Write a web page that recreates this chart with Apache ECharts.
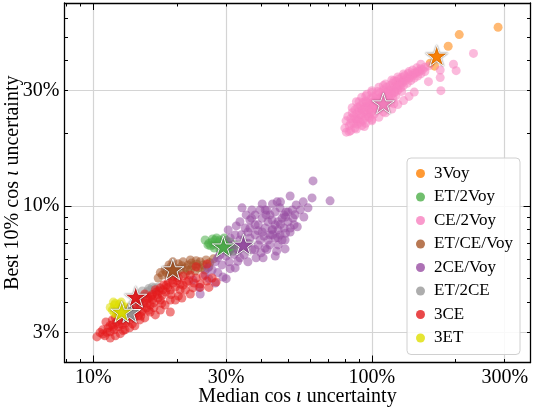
<!DOCTYPE html>
<html><head><meta charset="utf-8">
<script src="https://cdn.jsdelivr.net/npm/echarts@6/dist/echarts.min.js"></script>
<style>html,body{margin:0;padding:0;background:#fff}#c{width:533px;height:409px}</style>
</head><body><div id="c"></div><script>
// ---- data (percent) ----
const categories = ['3Voy','ET/2Voy','CE/2Voy','ET/CE/Voy','2CE/Voy','ET/2CE','3CE','3ET'];
const colors = ['#ff7f00','#4daf4a','#f781bf','#a65628','#984ea3','#999999','#e41a1c','#dede00'];

const pts3Voy = [[284,54.9],[206,51.2],[188,45.8],[168,37.9],[162,39.0]];
const ptsET2Voy = [[25.2,7.23],[25.8,6.9],[26.7,7.1],[27.4,7.23],[28.0,6.96],[28.5,7.23],[29.0,6.77],[29.7,7.0],[30.5,6.84],[31.0,7.1],[31.5,6.7],[29.9,6.58],[28.5,6.58],[27.2,6.7],[26.4,6.84],[32.3,6.9],[27.7,7.37],[29.5,7.37],[30.5,6.45],[31.8,6.5],[26,7.0],[27,6.9],[28.2,7.1],[29.3,6.9],[30,7.2],[31,6.6],[26.8,7.3]];
const ptsCE2Voy = [[80,21.0],[80.8,22.5],[81,20.2],[82,23.5],[82.9,20.3],[83,21.5],[84,20.5],[84,23.0],[85,24.3],[86,22.0],[86.9,21.0],[86,23.6],[87,25.0],[88,22.8],[88,24.0],[88.5,21.8],[89,25.6],[90,23.0],[90,24.8],[91,22.2],[91,26.0],[92,23.8],[92,25.2],[93,22.6],[93,26.8],[94,24.5],[94.5,23.2],[95,25.8],[95,27.2],[95,22.0],[95,28.5],[96,24.0],[96.5,25.5],[97,26.6],[97,23.5],[98,25.0],[98.5,26.2],[99,27.8],[99,24.2],[100,25.5],[100,24.6],[100,22.8],[100,29.5],[101,27.0],[101,28.3],[103,26.0],[103,27.5],[104,25.2],[104,28.8],[106,26.8],[106,28.0],[107,25.8],[107,29.5],[109,27.2],[109,28.6],[110,26.4],[110,30.2],[110,24.5],[110,31.5],[112,27.8],[112,29.5],[113,26.9],[113,31.0],[115,28.5],[115,30.0],[116,27.5],[116,31.5],[118,29.0],[118,30.8],[119,28.0],[119,32.2],[120,26.5],[120,33.0],[121,29.6],[121,31.2],[122,32.8],[122,28.6],[124,30.2],[124,31.8],[125,33.5],[127,30.8],[127,32.5],[128,34.0],[128,29.8],[130,31.5],[130,33.2],[131,34.6],[134,32.2],[134,34.0],[135,35.3],[138,33.0],[138,34.8],[140,36.5],[142,33.8],[142,35.5],[145,37.3],[146,34.5],[146,36.2],[150,35.2],[150,37.0],[150,38.6],[155,36.0],[155,37.5],[160,38.0],[231.7,42.8],[196.4,38.6],[200.8,36.3],[176,34.0],[177,30.0],[159.7,32.7],[176,36.5],[84,22.0],[87,23.0],[89,22.5],[91,24.0],[93,25.0],[96,26.8],[98,23.2],[102,26.2],[104,27.0],[105,29.8],[108,27.8],[111,28.5],[114,29.2],[117,30.0],[120,29.5],[123,30.8],[126,31.6],[129,32.4],[132,33.0],[136,33.8],[140,34.6],[144,35.4],[148,36.0],[152,36.6],[102,24.0],[106,25.0],[112,26.0],[117,26.8],[92,21.5],[88,20.8],[85,25.5],[90,27.0],[88,27.0],[92,28.2],[96,29.0],[100,30.0],[106,31.0],[112,32.0],[118,33.2],[124,34.2],[130,35.2],[136,36.0],[94,21.3],[100,22.5],[106,23.3],[112,24.3],[118,25.2],[124,26.3],[130,27.3],[136,28.4],[142,29.6]];
const ptsETCEVoy = [[17.7,5.18],[18.1,5.43],[18.7,5.7],[18.9,5.33],[19.7,5.54],[20.2,5.76],[20.5,5.43],[21.0,5.87],[21.4,5.54],[21.9,5.7],[22.3,5.98],[22.8,5.65],[23.4,5.93],[23.8,5.54],[24.2,5.87],[24.8,5.7],[25.4,5.98],[26.2,5.82],[27.0,6.04],[18.7,5.13],[19.7,5.18],[21.4,5.23],[23.2,5.38],[17.1,5.03],[22.3,5.43],[25.2,5.43],[19.3,5.87],[18.3,5.3],[19.0,5.6],[20.0,5.3],[20.8,5.65],[21.8,5.4],[22.5,5.8],[23.5,5.75],[24.5,5.55],[26.0,5.6],[19.5,5.1],[17.4,5.3]];
const pts2CEVoy = [[61.5,12.7],[70.8,10.5],[61.0,10.8],[56.7,10.4],[59.0,9.82],[50.9,11.0],[40.4,10.2],[45.7,10.4],[52.1,8.9],[48.8,6.64],[45.0,6.2],[40.7,6.1],[55.3,9.63],[53.5,10.1],[33.6,8.6],[35.1,8.1],[36.5,8.75],[38.1,9.18],[39.1,8.35],[40.4,8.9],[41.4,9.63],[42.4,8.6],[43.1,9.18],[43.8,7.96],[45.0,9.45],[46.1,8.6],[46.8,9.82],[47.6,8.9],[48.4,8.1],[49.2,9.45],[50.0,8.6],[50.9,7.8],[51.8,9.63],[52.6,8.35],[40.4,7.8],[38.1,7.59],[36.5,7.37],[42.4,7.23],[45.0,7.37],[46.8,7.59],[39.1,6.9],[41.4,6.7],[43.1,6.9],[35.1,6.9],[33.6,7.23],[37.1,6.58],[48.8,7.23],[46.1,6.9],[35.9,7.8],[32.3,7.59],[31.5,6.9],[33.1,6.58],[34.8,6.27],[31.0,7.37],[39.7,9.63],[37.1,9.63],[35.4,9.18],[34.2,9.82],[32.6,8.27],[30.5,7.96],[38.4,6.1],[35.9,5.87],[33.6,6.1],[29.7,6.7],[28.5,6.27],[27.4,5.87],[29.0,5.7],[26.7,5.43],[25.2,5.18],[27.4,4.8],[29.2,5.08],[24.2,4.32],[22.8,4.94],[25.8,5.54],[28.0,6.1],[30.7,5.87],[32.3,5.54],[41.4,8.1],[43.8,8.75],[46.1,7.96],[48.4,9.18],[43.1,7.59],[39.7,7.23],[38.1,8.35],[45.0,8.35],[50.0,9.45],[41.7,9.18],[47.6,7.23],[36.5,8.1],[44,8.0],[47,8.4],[49,9.0],[51,8.1],[53,9.2],[42,9.6],[44,10.2],[47,10.4],[37,8.9],[39,7.9],[41,7.5],[44,7.6],[46,7.4],[49,7.7],[34,7.6],[36,7.0],[38,6.6],[40,6.4],[42,6.6],[30,6.2],[32,6.3],[31,5.5],[33,5.9],[26,5.0],[28,5.3],[30,5.0],[24,4.6],[57,9.0],[54,8.2],[45.5,6.5]];
const ptsET2CE = [[13.3,3.64],[13.8,3.78],[14.2,3.89],[14.7,4.08],[15.2,4.24],[15.6,4.41],[16.0,4.49],[16.6,4.58],[14.1,3.64],[15.0,3.93],[13.0,3.51],[17.1,4.62],[15.8,4.55],[16.3,4.62],[15.0,4.45]];
const pts3CE = [[10.3,2.87],[10.57,2.99],[10.8,3.07],[11.0,2.90],[11.3,3.13],[11.5,3.01],[11.7,3.22],[11.9,3.07],[12.1,3.31],[12.3,3.16],[12.5,3.375],[12.7,3.22],[12.9,3.44],[13.1,3.28],[13.3,3.51],[13.5,3.375],[13.8,3.58],[14.0,3.44],[14.2,3.71],[14.5,3.51],[14.7,3.85],[14.9,3.64],[15.2,3.97],[15.5,3.78],[15.7,4.16],[16.0,3.89],[16.2,4.24],[16.5,3.97],[16.8,4.40],[17.1,4.16],[17.4,4.58],[17.7,4.28],[17.9,4.71],[18.2,4.40],[18.6,4.84],[18.9,4.49],[19.2,4.94],[19.7,4.62],[20.2,5.03],[20.5,4.75],[21.0,5.13],[21.6,4.84],[22.3,5.18],[22.8,4.58],[23.4,5.03],[24.2,4.75],[24.8,5.13],[25.6,4.89],[26.7,5.03],[27.6,4.84],[18.9,4.08],[18.1,3.89],[17.4,3.71],[16.7,3.54],[18.9,3.64],[16.0,3.64],[15.3,3.44],[14.7,3.375],[14.1,3.19],[13.5,3.13],[13.0,3.07],[12.5,2.96],[12.0,2.90],[11.5,2.84],[15.3,4.32],[16.7,4.5],[17.4,4.08],[16.0,4.2],[14.7,4.08],[14.1,3.89],[13.5,3.78],[13.0,3.64],[12.3,3.51],[11.7,3.375],[11.1,3.31],[20.2,4.24],[21.4,4.49],[22.3,4.32],[19.7,4.08],[23.4,5.6],[25.6,5.75],[20.8,4.16],[24.2,4.6],[26.0,4.6],[11.2,3.0],[11.8,3.15],[12.4,3.25],[13.0,3.35],[13.6,3.5],[14.3,3.6],[15.0,3.7],[15.6,3.95],[16.3,4.1],[17.0,4.3],[17.8,4.5],[18.5,4.6],[19.3,4.8],[20.0,4.9],[21.0,4.7],[22.0,4.9],[23.0,4.8],[12.8,3.05],[13.8,3.25],[14.8,3.5],[15.8,3.7],[16.5,3.8],[17.6,3.95],[19.0,4.3],[20.5,4.5],[10.8,2.95],[11.5,3.2],[12.0,3.45],[15.5,4.1],[17.2,4.45],[18.3,4.7],[16.3,4.3],[14.5,4.0]];
const pts3ET = [[11.7,3.71],[11.9,3.89],[12.2,3.78],[12.4,3.93],[12.5,3.71],[12.7,3.85],[12.9,3.64],[13.1,3.82],[12.1,3.57],[12.4,3.54],[11.8,4.0],[12.6,4.0],[13.2,3.6],[11.5,3.8],[12.0,3.95],[12.8,3.75],[11.9,3.6]];
const starPts = [[171,41.9],[29.3,6.8],[110,26.6],[19.3,5.47],[34.6,6.92],[13.5,3.64],[14.2,4.21],[12.65,3.65]];

const xTickLabels = [10, 30, 100, 300];
const yTickLabels = [3, 10, 30];
const xMajorTicks = [10, 100];
const xMinorTicks = [8, 9, 20, 30, 40, 50, 60, 70, 80, 90, 200, 300];
const yMajorTicks = [10];
const yMinorTicks = [3, 4, 5, 6, 7, 8, 9, 20, 30, 40, 50, 60];
const xRange = [7.88, 371.3];
const yRange = [2.249, 69.2];

// ---- build ----
const lg = v => Math.log10(v / 100);
const FONT = 'Liberation Serif';
const fmt = v => Math.round(Math.pow(10, v) * 100) + '%';
const allPts = [pts3Voy, ptsET2Voy, ptsCE2Voy, ptsETCEVoy, pts2CEVoy, ptsET2CE, pts3CE, pts3ET];

function tickAxis(pos, vals, len, showLine, range) {
  return {
    type: 'value', position: pos, min: lg(range[0]), max: lg(range[1]), gridIndex: 0,
    axisLine: { show: showLine, onZero: false, lineStyle: { color: '#000', width: 1.3 } },
    axisTick: { show: true, inside: true, length: len, customValues: vals.map(lg), lineStyle: { color: '#000', width: 1 } },
    axisLabel: { show: false }, splitLine: { show: false }, silent: true
  };
}
const nameStyle = { fontFamily: FONT, fontSize: 20, color: '#000', rich: { i: { fontFamily: FONT, fontSize: 20, fontStyle: 'italic', color: '#000' } } };
const labAxisX = {
  type: 'value', position: 'bottom', min: lg(xRange[0]), max: lg(xRange[1]),
  axisLine: { show: true, onZero: false, lineStyle: { color: '#000', width: 1.3 } },
  axisTick: { show: false, customValues: xTickLabels.map(lg) },
  axisLabel: { customValues: xTickLabels.map(lg), formatter: fmt, fontFamily: FONT, fontSize: 20, color: '#000', margin: 5 },
  splitLine: { show: true, lineStyle: { color: '#d4d4d4', width: 1.2 } },
  name: 'Median cos {i|ι} uncertainty', nameLocation: 'middle', nameGap: 24, nameMoveOverlap: false, nameTextStyle: nameStyle
};
const labAxisY = {
  type: 'value', position: 'left', min: lg(yRange[0]), max: lg(yRange[1]),
  axisLine: { show: true, onZero: false, lineStyle: { color: '#000', width: 1.3 } },
  axisTick: { show: false, customValues: yTickLabels.map(lg) },
  axisLabel: { customValues: yTickLabels.map(lg), formatter: fmt, fontFamily: FONT, fontSize: 20, color: '#000', margin: 5 },
  splitLine: { show: true, lineStyle: { color: '#d4d4d4', width: 1.2 } },
  name: 'Best 10% cos {i|ι} uncertainty', nameLocation: 'middle', nameGap: 42, nameMoveOverlap: false, nameTextStyle: nameStyle
};

const STAR = 'path://M100,0L122.45,69.1L195.11,69.1L136.33,111.8L158.78,180.9L100,138.2L41.22,180.9L63.67,111.8L4.89,69.1L77.55,69.1Z';

const series = categories.map((name, i) => ({
  type: 'scatter', name, symbol: 'circle', symbolSize: 9, z: 2,
  itemStyle: { color: colors[i], opacity: 0.55 },
  data: allPts[i].map(p => [lg(p[0]), lg(p[1])]),
  emphasis: { disabled: true }
}));
series.push({
  type: 'scatter', name: 'stars', symbol: STAR, symbolSize: 22, symbolKeepAspect: true, z: 5,
  data: starPts.map((p, i) => ({
    value: [lg(p[0]), lg(p[1])],
    itemStyle: { color: colors[i], opacity: 0.95, borderColor: '#fff', borderWidth: 1,
      shadowColor: 'rgba(0,0,0,0.55)', shadowBlur: 1.5 }
  })),
  emphasis: { disabled: true }
});

const chart = echarts.init(document.getElementById('c'), null, { renderer: 'canvas' });
chart.setOption({
  animation: false,
  backgroundColor: '#fff',
  grid: { left: 64.5, right: 2.5, top: 3, bottom: 46.5, containLabel: false, outerBoundsMode: 'none' },
  xAxis: [
    labAxisX,
    tickAxis('bottom', xMajorTicks, 7, false, xRange),
    tickAxis('bottom', xMinorTicks, 3.5, false, xRange),
    tickAxis('top', xMajorTicks, 7, true, xRange),
    tickAxis('top', xMinorTicks, 3.5, false, xRange)
  ],
  yAxis: [
    labAxisY,
    tickAxis('left', yMajorTicks, 7, false, yRange),
    tickAxis('left', yMinorTicks, 3.5, false, yRange),
    tickAxis('right', yMajorTicks, 7, true, yRange),
    tickAxis('right', yMinorTicks, 3.5, false, yRange)
  ],
  legend: {
    orient: 'vertical', left: 407, top: 158, padding: [7, 7, 8, 9],
    backgroundColor: 'rgba(255,255,255,0.85)', borderColor: '#d0d0d0', borderWidth: 1, borderRadius: 4,
    itemWidth: 9, itemHeight: 9, itemGap: 6.5,
    textStyle: { fontFamily: FONT, fontSize: 17, color: '#000', lineHeight: 16, padding: [0, 0, 0, 4] },
    data: categories.map((n, i) => ({ name: n, icon: 'circle', itemStyle: { color: colors[i], opacity: 0.8 } })),
    selectedMode: false
  },
  series
});
</script></body></html>
